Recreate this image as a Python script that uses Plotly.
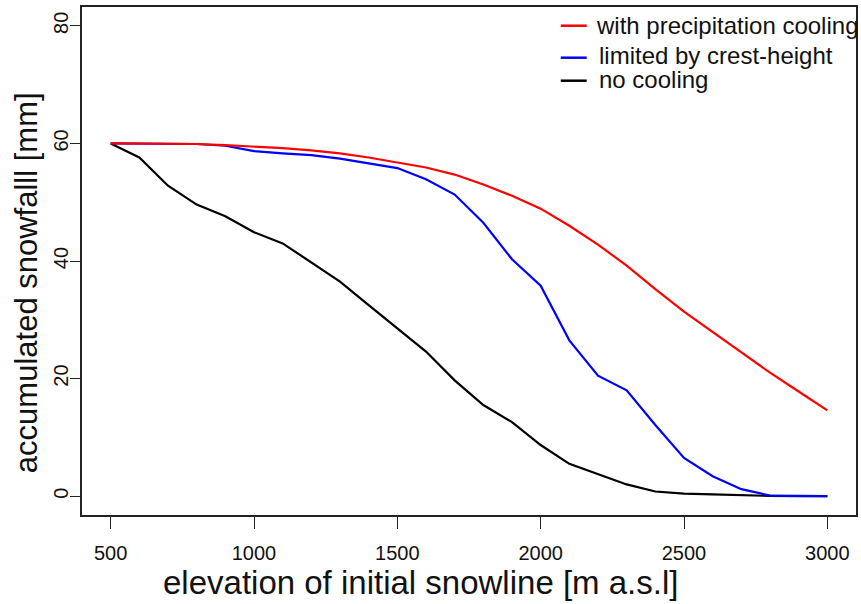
import plotly.graph_objects as go

elevation = [500, 600, 700, 800, 900, 1000, 1100, 1200, 1300, 1400, 1500, 1600, 1700,
             1800, 1900, 2000, 2100, 2200, 2300, 2400, 2500, 2600, 2700, 2800, 2900, 3000]

with_precip_cooling = [60.0, 60.0, 60.0, 59.9, 59.7, 59.5, 59.2, 58.8, 58.3, 57.6, 56.8, 55.9, 54.7,
                       53.0, 51.1, 48.9, 46.0, 42.8, 39.2, 35.2, 31.4, 27.9, 24.5, 21.0, 17.8, 14.6]

limited_by_crest = [60.0, 60.0, 60.0, 59.9, 59.6, 58.7, 58.3, 58.0, 57.4, 56.6, 55.8, 53.9, 51.3,
                    46.5, 40.3, 35.8, 26.5, 20.5, 18.0, 12.1, 6.5, 3.4, 1.2, 0.1, 0.0, 0.0]

no_cooling = [60.0, 57.6, 52.8, 49.6, 47.6, 44.9, 43.0, 39.8, 36.5, 32.5, 28.5, 24.6, 19.7,
              15.5, 12.6, 8.7, 5.5, 3.8, 2.0, 0.8, 0.45, 0.3, 0.15, 0.05, 0.0, 0.0]

series_names = ["with precipitation cooling", "limited by crest-height", "no cooling"]
series_colors = ["#ff0000", "#0000ff", "#000000"]
series_values = [with_precip_cooling, limited_by_crest, no_cooling]

x_ticks = [500, 1000, 1500, 2000, 2500, 3000]
y_ticks = [0, 20, 40, 60, 80]

x_title = "elevation of initial snowline [m a.s.l]"
y_title = "accumulated snowfalll [mm]"

FONT = "Liberation Sans, Arial, sans-serif"

fig = go.Figure()
# draw black first, then blue, then red on top
for name, color, vals in reversed(list(zip(series_names, series_colors, series_values))):
    fig.add_trace(go.Scatter(x=elevation, y=vals, mode="lines", name=name,
                             line=dict(color=color, width=2.2), showlegend=False))

# plot area in pixels: x 82..858, y 7..515
L, R, T, B = 82, 858, 7, 515
W, H = R - L, B - T
def px(x):
    return (x - L) / W
def py(y):
    return (B - y) / H

# manual legend (matches uneven spacing of reference)
legend_rows = [(25.7, 595, 25), (57.7, 598, 55), (80.7, 598, 80)]
for (ly, tx, ty), name, color in zip(legend_rows, series_names, series_colors):
    fig.add_shape(type="line", xref="paper", yref="paper",
                  x0=px(562), x1=px(588), y0=py(ly), y1=py(ly),
                  line=dict(color=color, width=2.5))
    fig.add_annotation(xref="paper", yref="paper", x=px(tx), y=py(ty),
                       text=name, showarrow=False, xanchor="left", yanchor="middle",
                       font=dict(family=FONT, size=24, color="#111111"))

fig.add_annotation(xref="paper", yref="paper", x=px(421), y=py(582), text=x_title,
                   showarrow=False, xanchor="center", yanchor="middle",
                   font=dict(family=FONT, size=33, color="#111111"))
fig.add_annotation(xref="paper", yref="paper", x=px(27), y=py(283), text=y_title,
                   showarrow=False, xanchor="center", yanchor="middle", textangle=-90,
                   font=dict(family=FONT, size=31, color="#111111"))

axis_common = dict(showgrid=False, zeroline=False, showline=True, mirror=True,
                   linecolor="#222222", linewidth=1.5, ticks="outside",
                   tickwidth=1.2, tickcolor="#222222",
                   tickfont=dict(family=FONT, size=20, color="#111111"))

fig.update_xaxes(range=[400, 3100], tickvals=x_ticks, ticklen=12, ticklabelstandoff=7,
                 **axis_common)
fig.update_yaxes(range=[-3.2, 83.2], tickvals=y_ticks, tickangle=-90, ticklen=10,
                 ticklabelstandoff=-6, **axis_common)

fig.update_layout(width=861, height=604, autosize=False,
                  margin=dict(l=L, r=861 - R, t=T, b=604 - B),
                  plot_bgcolor="white", paper_bgcolor="white",
                  font=dict(family=FONT))

fig.write_html("out.html")
